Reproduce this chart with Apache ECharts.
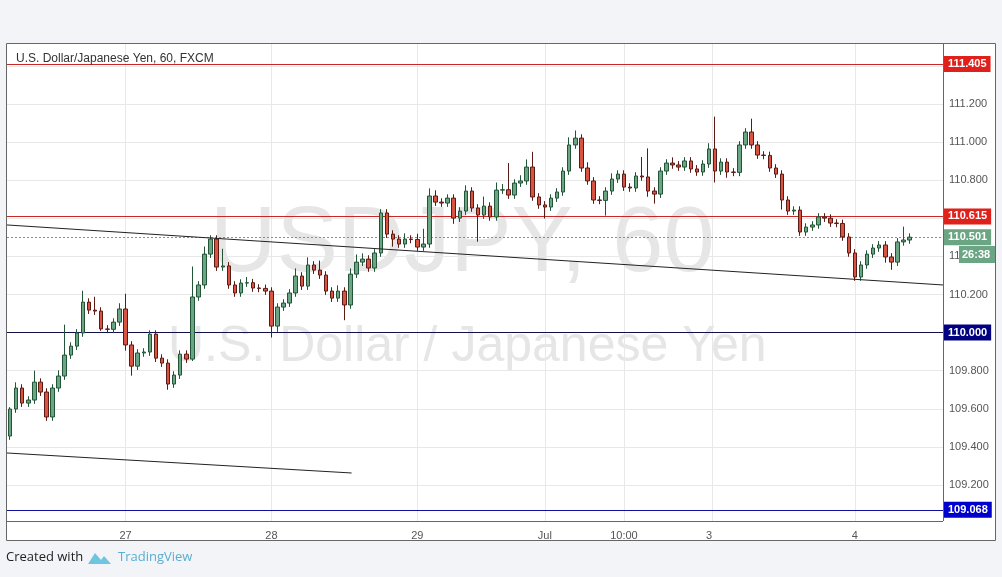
<!DOCTYPE html>
<html>
<head>
<meta charset="utf-8">
<script src="https://cdn.jsdelivr.net/npm/echarts@6/dist/echarts.min.js"></script>
<style>
  html, body { margin: 0; padding: 0; background: #f2f4f7; }
  #chart { width: 1002px; height: 577px; }
</style>
</head>
<body>
<div id="chart"></div>
<script>
// USDJPY 60 min candles
var firstOpen = 109.457;
var closes = [
  109.599,109.709,109.630,109.646,109.740,109.688,109.557,109.709,109.772,109.882,
  109.929,109.998,110.160,110.118,110.113,110.019,110.017,110.055,110.124,109.935,
  109.824,109.893,109.898,109.992,109.866,109.840,109.730,109.777,109.887,109.861,
  110.187,110.250,110.412,110.491,110.344,110.350,110.250,110.208,110.260,110.262,
  110.234,110.232,110.218,110.034,110.134,110.155,110.208,110.297,110.244,110.355,
  110.328,110.302,110.218,110.181,110.218,110.145,110.307,110.370,110.386,110.339,
  110.418,110.628,110.517,110.491,110.465,110.491,110.489,110.449,110.465,110.717,
  110.685,110.680,110.706,110.601,110.638,110.743,110.654,110.617,110.664,110.607,
  110.748,110.750,110.722,110.785,110.796,110.869,110.712,110.670,110.659,110.706,
  110.738,110.848,110.985,111.021,110.864,110.796,110.696,110.694,110.743,110.806,
  110.832,110.764,110.759,110.822,110.817,110.743,110.727,110.848,110.890,110.880,
  110.869,110.901,110.859,110.843,110.885,110.964,110.848,110.895,110.843,110.841,
  110.985,111.053,110.985,110.932,110.930,110.864,110.832,110.696,110.638,110.643,
  110.528,110.554,110.565,110.607,110.601,110.575,110.573,110.502,110.418,110.292,
  110.355,110.412,110.444,110.460,110.397,110.370,110.476,110.486,110.501
];
var upWick = [
  .01,.03,.02,.02,.06,.02,.02,.02,.03,.16, .02,.02,.06,.02,.07,.02,.02,.02,.03,.08,
  .02,.02,.02,.02,.02,.02,.02,.02,.02,.02, .16,.02,.04,.02,.02,.09,.02,.02,.02,.03,
  .02,.02,.02,.02,.02,.02,.02,.04,.02,.04, .02,.05,.02,.02,.03,.02,.03,.04,.03,.02,
  .02,.02,.02,.02,.02,.03,.02,.03,.08,.04, .03,.02,.02,.02,.02,.03,.02,.02,.05,.02,
  .04,.03,.14,.02,.03,.04,.08,.02,.02,.02, .02,.02,.04,.04,.02,.03,.02,.02,.02,.03,
  .02,.02,.02,.02,.10,.15,.02,.02,.02,.03, .02,.02,.02,.02,.02,.03,.17,.02,.02,.02,
  .02,.02,.07,.02,.02,.02,.02,.02,.02,.02, .02,.02,.02,.02,.02,.02,.02,.02,.02,.02,
  .02,.02,.02,.02,.02,.02,.02,.07,.02
];
var downWick = [
  .02,.02,.02,.02,.02,.02,.02,.02,.02,.02, .02,.02,.02,.02,.02,.01,.02,.02,.02,.03,
  .05,.02,.02,.02,.02,.02,.03,.02,.02,.02, .01,.02,.02,.02,.02,.02,.02,.02,.02,.02,
  .02,.02,.02,.06,.03,.02,.02,.02,.02,.02, .02,.02,.02,.02,.02,.08,.02,.02,.02,.02,
  .02,.02,.02,.04,.02,.02,.02,.02,.02,.02, .02,.02,.02,.03,.02,.02,.02,.14,.02,.02,
  .02,.02,.02,.02,.02,.02,.02,.02,.06,.02, .02,.02,.02,.02,.02,.02,.02,.02,.08,.02,
  .02,.02,.02,.02,.02,.03,.05,.02,.02,.02, .02,.02,.02,.02,.02,.02,.06,.02,.03,.02,
  .02,.02,.02,.02,.02,.02,.02,.05,.02,.02, .02,.02,.02,.02,.02,.02,.02,.02,.02,.02,
  .02,.02,.02,.02,.03,.04,.02,.02,.02
];
var slotCount = 154;
var timeLabels = { 19: '27', 43: '28', 67: '29', 88: 'Jul', 101: '10:00', 115: '3', 139: '4' };
var gridLineSlots = [19, 43, 67, 88, 101, 115.5, 139];
var levels = [
  { value: 111.405, line: '#c62828', tag: '#e0201b' },
  { value: 110.615, line: '#c62828', tag: '#e0201b' },
  { value: 110.000, line: '#10104a', tag: '#000080' },
  { value: 109.068, line: '#1010a0', tag: '#0000cc' }
];
var lastPrice = 110.501;
var trendA = [[-0.5, 110.565], [153.5, 110.250]];
var trendB = [[-0.5, 109.368], [56.2, 109.263]];

var cats = [];
for (var i = 0; i < slotCount; i++) cats.push(timeLabels[i] || '');

var candles = [];
var prev = firstOpen;
for (var i = 0; i < closes.length; i++) {
    var o = prev, c = closes[i];
    candles.push([o, c, Math.min(o, c) - downWick[i], Math.max(o, c) + upWick[i]]);
    prev = c;
}

var levelLines = levels.map(function (l) {
    return {
        yAxis: l.value,
        lineStyle: { color: l.line, width: 1, type: 'solid' },
        label: {
            show: true, position: 'end', distance: 1, formatter: l.value.toFixed(3),
            backgroundColor: l.tag, color: '#fff', fontWeight: 'bold', fontSize: 11,
            padding: [3, 4, 2, 4], fontFamily: 'Arial'
        }
    };
});
levelLines.push({
    yAxis: lastPrice,
    lineStyle: { color: '#6b9f83', width: 1, type: [2, 2] },
    label: {
        show: true, position: 'end', distance: 1, formatter: lastPrice.toFixed(3),
        backgroundColor: '#6ba583', color: '#fff', fontWeight: 'bold', fontSize: 11,
        padding: [3, 4, 2, 4], fontFamily: 'Arial'
    }
});

var bg = '#f2f4f7';
var myChart = echarts.init(document.getElementById('chart'));
var option = {
    backgroundColor: '#fff',
    animation: false,
    grid: { left: 7, right: 59, top: 27.8, bottom: 53.9 },
    xAxis: [
        {
            type: 'category', data: cats, boundaryGap: true,
            axisLine: { show: false }, axisTick: { show: false },
            splitLine: { show: false },
            axisLabel: { interval: 0, color: '#555', fontSize: 11, margin: 7, fontFamily: 'Arial' }
        },
        { type: 'value', min: -0.5, max: slotCount - 0.5, show: false }
    ],
    yAxis: {
        type: 'value', position: 'right', min: 109.0, max: 111.6, interval: 0.2,
        axisLine: { show: false },
        axisTick: { show: false },
        splitLine: { lineStyle: { color: '#e8e8e8' } },
        axisLabel: {
            color: '#555', fontSize: 11, margin: 6, fontFamily: 'Arial',
            formatter: function (v) { return (v < 109.1 || v > 111.5) ? '' : v.toFixed(3); }
        }
    },
    graphic: [
        { type: 'text', z: 0, left: 210, top: 200, style: { text: 'USDJPY, 60', fontSize: 92, fill: '#e6e6e6', fontFamily: 'Arial' } },
        { type: 'text', z: 0, left: 168, top: 322, style: { text: 'U.S. Dollar / Japanese Yen', fontSize: 50, fill: '#e6e6e6', fontFamily: 'Arial' } },
        { type: 'rect', z: 50, shape: { x: 0, y: 0, width: 1002, height: 43 }, style: { fill: bg } },
        { type: 'rect', z: 50, shape: { x: 0, y: 541, width: 1002, height: 36 }, style: { fill: bg } },
        { type: 'rect', z: 50, shape: { x: 0, y: 0, width: 6, height: 577 }, style: { fill: bg } },
        { type: 'rect', z: 50, shape: { x: 996, y: 0, width: 6, height: 577 }, style: { fill: bg } },
        { type: 'rect', z: 50, shape: { x: 7, y: 522, width: 936, height: 3 }, style: { fill: '#fff' } },
        { type: 'rect', z: 51, shape: { x: 6.5, y: 43.5, width: 989, height: 497 }, style: { fill: 'none', stroke: '#666', lineWidth: 1 } },
        { type: 'line', z: 51, shape: { x1: 943.5, y1: 43, x2: 943.5, y2: 521 }, style: { stroke: '#666', lineWidth: 1 } },
        { type: 'line', z: 51, shape: { x1: 7, y1: 521.5, x2: 943, y2: 521.5 }, style: { stroke: '#666', lineWidth: 1 } },
        { type: 'text', z: 52, left: 16, top: 53, style: { text: 'U.S. Dollar/Japanese Yen, 60, FXCM', fontSize: 12, fill: '#333', fontFamily: 'Arial' } },
        { type: 'rect', z: 52, shape: { x: 959, y: 246, width: 36, height: 17 }, style: { fill: '#6ba583' } },
        { type: 'text', z: 53, left: 962, top: 249, style: { text: '26:38', fontSize: 11, fontWeight: 'bold', fill: '#fff', fontFamily: 'Arial' } },
        { type: 'text', z: 52, left: 6, top: 551, style: { text: 'Created with', fontSize: 13, fill: '#222', fontFamily: 'Open Sans' } },
        { type: 'text', z: 52, left: 118, top: 551, style: { text: 'TradingView', fontSize: 13, fill: '#5aaed0', fontFamily: 'Open Sans' } },
        { type: 'polygon', z: 52, shape: { points: [[88, 564], [95, 553], [101, 560], [104, 556], [111, 564]] }, style: { fill: '#6ec5e0' } }
    ],
    series: [
        {
            type: 'candlestick', data: candles, barWidth: 4, z: 3,
            itemStyle: {
                color: '#6ba583', color0: '#d75442',
                borderColor: '#225437', borderColor0: '#5b1a13', borderWidth: 1
            },
            markLine: { silent: true, symbol: 'none', z: 2, data: levelLines }
        },
        {
            type: 'line', xAxisIndex: 1, data: trendA, symbol: 'none', z: 4,
            lineStyle: { color: '#222', width: 1 },
            markLine: {
                silent: true, symbol: 'none', z: 1, label: { show: false },
                lineStyle: { color: '#e8e8e8', width: 1, type: 'solid' },
                data: gridLineSlots.map(function (s) { return { xAxis: s }; })
            }
        },
        {
            type: 'line', xAxisIndex: 1, data: trendB, symbol: 'none', z: 4,
            lineStyle: { color: '#222', width: 1 }
        }
    ]
};
myChart.setOption(option);
</script>
</body>
</html>
